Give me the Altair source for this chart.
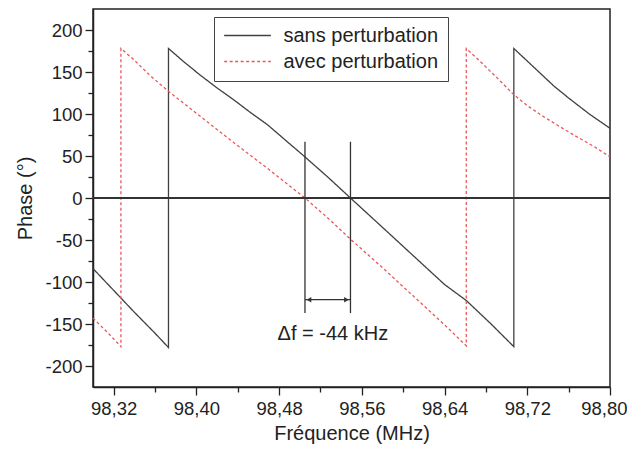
import altair as alt
import pandas as pd

# ---------------- data ----------------
series_names = ["sans perturbation", "avec perturbation"]
series_colors = ["#404040", "#e8585a"]

sans_freq = [98.300, 98.320, 98.340, 98.360, 98.373, 98.373, 98.387, 98.404,
             98.420, 98.436, 98.452, 98.469, 98.485, 98.504, 98.527, 98.549,
             98.580, 98.610, 98.640, 98.661, 98.685, 98.707, 98.707, 98.720,
             98.733, 98.746, 98.760, 98.780, 98.800]
sans_phase = [-84, -110, -136, -161, -178, 178, 163, 146,
              131, 117, 102, 87, 70, 50, 25, 0,
              -35, -69, -103, -122, -150, -177, 178, 163,
              148, 133, 119, 100, 83]

avec_freq = [98.300, 98.314, 98.327, 98.327, 98.340, 98.355, 98.374, 98.404,
             98.436, 98.469, 98.505, 98.530, 98.549, 98.580, 98.610, 98.640,
             98.661, 98.661, 98.675, 98.690, 98.707, 98.720, 98.733, 98.750,
             98.765, 98.785, 98.800]
avec_phase = [-143, -160, -177, 178, 164, 146, 126, 97,
              66, 35, 0, -27, -49, -83, -117, -151,
              -176, 178, 162, 144, 123, 110, 99, 86,
              75, 61, 49]

x_ticks = [98.32, 98.36, 98.40, 98.44, 98.48, 98.52, 98.56, 98.60,
           98.64, 98.68, 98.72, 98.76, 98.80]
y_ticks = [-200, -175, -150, -125, -100, -75, -50, -25, 0,
           25, 50, 75, 100, 125, 150, 175, 200]

marker_freq = [98.505, 98.549]
marker_top = 67
marker_bottom = -137
arrow_phase = -121
label_text = "Δf = -44 kHz"
label_freq = 98.532
label_phase = -162

# ---------------- tables ----------------
rows = []
for name, fs, ps in [(series_names[0], sans_freq, sans_phase),
                     (series_names[1], avec_freq, avec_phase)]:
    for i, (f, p) in enumerate(zip(fs, ps)):
        rows.append({"series": name, "freq": f, "phase": p, "i": i})
df = pd.DataFrame(rows)

markers = pd.DataFrame({"freq": marker_freq, "phase": [marker_top] * 2,
                        "bottom": [marker_bottom] * 2})
arrow = pd.DataFrame({"freq": [marker_freq[0]], "f2": [marker_freq[1]],
                      "phase": [arrow_phase]})
head_l = pd.DataFrame({"freq": [marker_freq[0]], "phase": [arrow_phase]})
head_r = pd.DataFrame({"freq": [marker_freq[1]], "phase": [arrow_phase]})
label_df = pd.DataFrame({"freq": [label_freq], "phase": [label_phase],
                         "text": [label_text]})

FONT = "Liberation Sans"
X_TITLE = "Fréquence (MHz)"
Y_TITLE = "Phase (°)"
xscale = alt.Scale(domain=[98.30, 98.80], nice=False, zero=False)
yscale = alt.Scale(domain=[-225, 225], nice=False, zero=False)

x_major = "abs((datum.value - 98.32) / 0.08 - round((datum.value - 98.32) / 0.08)) < 0.01"
y_major = "abs(datum.value / 50 - round(datum.value / 50)) < 0.01"

x_axis = alt.Axis(
    values=x_ticks,
    labelExpr=f"({x_major}) ? replace(format(datum.value, '.2f'), '.', ',') : ''",
    tickSize={"condition": {"test": x_major, "value": 8}, "value": 5},
    grid=False, domainColor="#222222", domainWidth=1.5,
    tickColor="#222222", tickWidth=1.3,
    labelFont=FONT, labelFontSize=18.5, labelColor="#222222", labelPadding=4,
    labelOverlap=False, labelFlush=1, labelFlushOffset=17,
    titleFont=FONT, titleFontSize=20, titleFontWeight="normal",
    titleColor="#222222", titlePadding=6,
)
y_axis = alt.Axis(
    values=y_ticks,
    labelExpr=f"({y_major}) ? toString(datum.value) : ''",
    tickSize={"condition": {"test": y_major, "value": 8}, "value": 5},
    grid=False, domainColor="#222222", domainWidth=1.5,
    tickColor="#222222", tickWidth=1.3,
    labelFont=FONT, labelFontSize=18.5, labelColor="#222222", labelPadding=3,
    labelOverlap=False, labelFlush=False,
    titleFont=FONT, titleFontSize=20, titleFontWeight="normal",
    titleColor="#222222", titlePadding=9,
)


def X(field="freq:Q"):
    return alt.X(field, scale=xscale, axis=x_axis, title=X_TITLE)


def Y(field="phase:Q"):
    return alt.Y(field, scale=yscale, axis=y_axis, title=Y_TITLE)


lines = alt.Chart(df).mark_line(strokeWidth=1.3).encode(
    x=X(), y=Y(),
    color=alt.Color("series:N",
                    scale=alt.Scale(domain=series_names, range=series_colors),
                    legend=alt.Legend(title=None)),
    strokeDash=alt.StrokeDash("series:N",
                              scale=alt.Scale(domain=series_names,
                                              range=[[1, 0], [3, 2.5]]),
                              legend=alt.Legend(title=None)),
    order=alt.Order("i:Q"),
)

zero = alt.Chart(df).mark_rule(color="#333333", strokeWidth=1.3).encode(
    y=alt.Y(datum=0, scale=yscale, axis=y_axis, title=Y_TITLE)
)

vlines = alt.Chart(markers).mark_rule(color="#333333", strokeWidth=1.3).encode(
    x=X(), y=Y(), y2="bottom:Q",
)

arrow_line = alt.Chart(arrow).mark_rule(color="#333333", strokeWidth=1.3).encode(
    x=X(), x2="f2:Q", y=Y(),
)

heads_left = alt.Chart(head_l).mark_point(
    shape="triangle-left", filled=True, color="#333333", size=30, opacity=1, xOffset=4
).encode(x=X(), y=Y())
heads_right = alt.Chart(head_r).mark_point(
    shape="triangle-right", filled=True, color="#333333", size=30, opacity=1, xOffset=-4
).encode(x=X(), y=Y())

label = alt.Chart(label_df).mark_text(
    font=FONT, fontSize=20, color="#222222", align="center", baseline="middle"
).encode(x=X(), y=Y(), text="text:N")

chart = alt.layer(lines, zero, vlines, arrow_line, heads_left, heads_right, label).properties(
    width=517, height=378,
    autosize=alt.AutoSizeParams(type="none"),
    padding={"left": 85, "top": 1, "right": 17, "bottom": 58},
    background="white",
).configure_view(
    stroke="#222222", strokeWidth=1.5
).configure_legend(
    orient="none", legendX=121, legendY=8,
    strokeColor="#444444", fillColor="white", padding=9.5,
    labelFont=FONT, labelFontSize=20, labelColor="#222222",
    symbolType="stroke", symbolSize=2180, symbolStrokeWidth=1.3,
    labelOffset=12, rowPadding=6, clipHeight=18, cornerRadius=0,
)

chart.save("out.html", embed_options={"renderer": "svg", "actions": False})
